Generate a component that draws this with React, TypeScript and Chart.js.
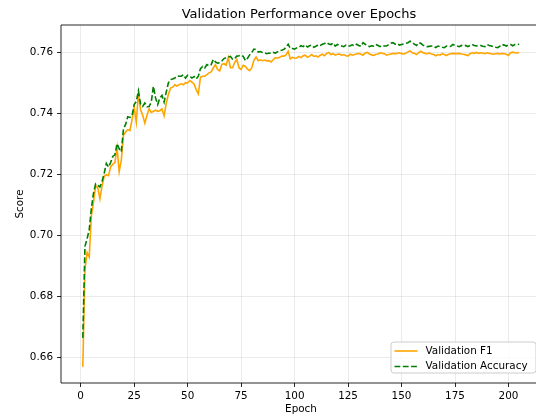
import React, { useEffect, useRef } from "react";
import { Chart, registerables } from "chart.js";

Chart.register(...registerables);

const epochs = Array.from({ length: 205 }, (_, i) => i + 1);

const f1 = [
  0.6570, 0.6890, 0.6945, 0.6930, 0.7066, 0.7110, 0.7164, 0.7157, 0.7121, 0.7164,
  0.7195, 0.7200, 0.7197, 0.7226, 0.7234, 0.7240, 0.7289, 0.7210, 0.7248, 0.7330,
  0.7340, 0.7348, 0.7345, 0.7380, 0.7420, 0.7372, 0.7468, 0.7413, 0.7395, 0.7369,
  0.7395, 0.7416, 0.7404, 0.7408, 0.7412, 0.7408, 0.7410, 0.7416, 0.7393, 0.7435,
  0.7463, 0.7484, 0.7487, 0.7495, 0.7491, 0.7495, 0.7498, 0.7495, 0.7502, 0.7501,
  0.7509, 0.7504, 0.7498, 0.7479, 0.7465, 0.7520, 0.7523, 0.7523, 0.7528, 0.7534,
  0.7537, 0.7550, 0.7561, 0.7545, 0.7540, 0.7562, 0.7564, 0.7559, 0.7584, 0.7551,
  0.7551, 0.7568, 0.7578, 0.7551, 0.7545, 0.7559, 0.7555, 0.7546, 0.7541, 0.7551,
  0.7575, 0.7586, 0.7574, 0.7577, 0.7574, 0.7576, 0.7573, 0.7574, 0.7570, 0.7577,
  0.7584, 0.7582, 0.7585, 0.7589, 0.7589, 0.7593, 0.7605, 0.7580, 0.7585, 0.7582,
  0.7583, 0.7588, 0.7584, 0.7590, 0.7592, 0.7585, 0.7589, 0.7594, 0.7588, 0.7590,
  0.7586, 0.7592, 0.7595, 0.7590, 0.7598, 0.7601, 0.7594, 0.7597, 0.7592, 0.7595,
  0.7596, 0.7592, 0.7594, 0.7590, 0.7589, 0.7595, 0.7592, 0.7594, 0.7596, 0.7598,
  0.7595, 0.7592, 0.7599, 0.7601, 0.7596, 0.7593, 0.7591, 0.7595, 0.7596, 0.7600,
  0.7598, 0.7597, 0.7592, 0.7594, 0.7596, 0.7598, 0.7597, 0.7598, 0.7600, 0.7597,
  0.7596, 0.7598, 0.7603, 0.7606, 0.7600, 0.7598, 0.7594, 0.7600, 0.7605, 0.7600,
  0.7598, 0.7597, 0.7599, 0.7596, 0.7594, 0.7590, 0.7594, 0.7592, 0.7597, 0.7594,
  0.7591, 0.7595, 0.7597, 0.7598, 0.7597, 0.7597, 0.7598, 0.7596, 0.7595, 0.7593,
  0.7591, 0.7597, 0.7600, 0.7598, 0.7601, 0.7598, 0.7600, 0.7599, 0.7597, 0.7600,
  0.7598, 0.7597, 0.7595, 0.7597, 0.7598, 0.7596, 0.7598, 0.7597, 0.7595, 0.7591,
  0.7600, 0.7602, 0.7600, 0.7599, 0.7601,
];

const acc = [
  0.6665, 0.6965, 0.6990, 0.7020, 0.7090, 0.7140, 0.7170, 0.7165, 0.7160, 0.7178,
  0.7205, 0.7237, 0.7225, 0.7240, 0.7260, 0.7265, 0.7302, 0.7285, 0.7275, 0.7350,
  0.7365, 0.7390, 0.7388, 0.7393, 0.7430, 0.7440, 0.7475, 0.7432, 0.7424, 0.7435,
  0.7423, 0.7424, 0.7438, 0.7490, 0.7452, 0.7430, 0.7452, 0.7460, 0.7438, 0.7471,
  0.7501, 0.7512, 0.7514, 0.7517, 0.7524, 0.7523, 0.7523, 0.7528, 0.7517, 0.7526,
  0.7523, 0.7517, 0.7522, 0.7514, 0.7523, 0.7548, 0.7555, 0.7550, 0.7561, 0.7557,
  0.7561, 0.7578, 0.7570, 0.7566, 0.7567, 0.7573, 0.7581, 0.7584, 0.7586, 0.7588,
  0.7579, 0.7581, 0.7589, 0.7590, 0.7592, 0.7588, 0.7574, 0.7582, 0.7593, 0.7601,
  0.7612, 0.7610, 0.7602, 0.7604, 0.7601, 0.7600, 0.7597, 0.7599, 0.7598, 0.7601,
  0.7599, 0.7603, 0.7607, 0.7608, 0.7611, 0.7618, 0.7628, 0.7614, 0.7614, 0.7612,
  0.7616, 0.7618, 0.7623, 0.7620, 0.7626, 0.7619, 0.7623, 0.7625, 0.7618, 0.7621,
  0.7626, 0.7624, 0.7628, 0.7630, 0.7634, 0.7629, 0.7627, 0.7632, 0.7622, 0.7627,
  0.7624, 0.7622, 0.7620, 0.7625, 0.7621, 0.7623, 0.7626, 0.7622, 0.7628, 0.7624,
  0.7621, 0.7633, 0.7628, 0.7624, 0.7620, 0.7623, 0.7622, 0.7627, 0.7624, 0.7620,
  0.7624, 0.7622, 0.7622, 0.7627, 0.7631, 0.7633, 0.7628, 0.7630, 0.7625, 0.7627,
  0.7629, 0.7631, 0.7633, 0.7638, 0.7634, 0.7628, 0.7624, 0.7633, 0.7631, 0.7625,
  0.7622, 0.7620, 0.7621, 0.7622, 0.7622, 0.7617, 0.7622, 0.7620, 0.7618, 0.7617,
  0.7622, 0.7620, 0.7621, 0.7627, 0.7624, 0.7622, 0.7620, 0.7624, 0.7622, 0.7624,
  0.7620, 0.7624, 0.7627, 0.7624, 0.7622, 0.7624, 0.7624, 0.7621, 0.7620, 0.7627,
  0.7624, 0.7622, 0.7620, 0.7618, 0.7617, 0.7622, 0.7627, 0.7625, 0.7622, 0.7626,
  0.7627, 0.7623, 0.7627, 0.7628, 0.7627,
];

const xTicks = [0, 25, 50, 75, 100, 125, 150, 175, 200];
const yTicks = [0.66, 0.68, 0.7, 0.72, 0.74, 0.76];
const titleText = "Validation Performance over Epochs";
const xLabel = "Epoch";
const yLabel = "Score";
const seriesNames = ["Validation F1", "Validation Accuracy"];
const colors = ["#ffa500", "#008000"];

const FONT = '"DejaVu Sans", sans-serif';

const decorPlugin = {
  id: "decor",
  afterDraw(chart: any) {
    const { ctx, chartArea: a } = chart;
    ctx.save();
    // spines
    ctx.strokeStyle = "#000";
    ctx.lineWidth = 0.85;
    ctx.beginPath();
    ctx.rect(a.left, a.top, a.right - a.left, a.bottom - a.top);
    ctx.stroke();

    const cx = (a.left + a.right) / 2;
    ctx.fillStyle = "#000";
    ctx.textAlign = "center";
    ctx.textBaseline = "middle";
    ctx.font = `13px ${FONT}`;
    ctx.fillText(titleText, cx - 2, 15);

    ctx.font = `10.4px ${FONT}`;
    ctx.fillText(xLabel, cx, 409.5);

    ctx.save();
    ctx.translate(20, (a.top + a.bottom) / 2);
    ctx.rotate(-Math.PI / 2);
    ctx.fillText(yLabel, 0, 0);
    ctx.restore();

    // legend
    const lx = 391, ly = 342, lw = 145, lh = 31, r = 3;
    ctx.beginPath();
    ctx.moveTo(lx + r, ly);
    ctx.lineTo(lx + lw - r, ly);
    ctx.arcTo(lx + lw, ly, lx + lw, ly + r, r);
    ctx.lineTo(lx + lw, ly + lh - r);
    ctx.arcTo(lx + lw, ly + lh, lx + lw - r, ly + lh, r);
    ctx.lineTo(lx + r, ly + lh);
    ctx.arcTo(lx, ly + lh, lx, ly + lh - r, r);
    ctx.lineTo(lx, ly + r);
    ctx.arcTo(lx, ly, lx + r, ly, r);
    ctx.closePath();
    ctx.fillStyle = "rgba(255,255,255,0.8)";
    ctx.fill();
    ctx.strokeStyle = "#cccccc";
    ctx.lineWidth = 1;
    ctx.stroke();

    const rows = [351, 366.5];
    seriesNames.forEach((name, i) => {
      ctx.beginPath();
      ctx.strokeStyle = colors[i];
      ctx.lineWidth = 1.6;
      ctx.setLineDash(i === 1 ? [5.8, 2.5] : []);
      ctx.moveTo(394.5, rows[i]);
      ctx.lineTo(417.5, rows[i]);
      ctx.stroke();
      ctx.setLineDash([]);
      ctx.fillStyle = "#000";
      ctx.textAlign = "left";
      ctx.font = `10.4px ${FONT}`;
      ctx.fillText(name, 425.5, rows[i]);
    });
    ctx.restore();
  },
};

export default function App() {
  const ref = useRef<HTMLCanvasElement | null>(null);

  useEffect(() => {
    document.body.style.margin = "0";
    document.body.style.overflow = "hidden";
    const canvas = ref.current;
    if (!canvas) return;
    const chart = new Chart(canvas, {
      type: "line",
      data: {
        datasets: [
          {
            label: seriesNames[0],
            data: epochs.map((e, i) => ({ x: e, y: f1[i] })),
            borderColor: colors[0],
            backgroundColor: colors[0],
            borderWidth: 1.6,
            pointRadius: 0,
            tension: 0,
            order: 1,
          },
          {
            label: seriesNames[1],
            data: epochs.map((e, i) => ({ x: e, y: acc[i] })),
            borderColor: colors[1],
            backgroundColor: colors[1],
            borderWidth: 1.6,
            borderDash: [5.8, 2.5],
            pointRadius: 0,
            tension: 0,
            order: 0,
          },
        ],
      },
      plugins: [decorPlugin],
      options: {
        animation: false,
        responsive: false,
        devicePixelRatio: 1,
        layout: { padding: { top: 25, right: 1, left: 0, bottom: 0 } },
        plugins: {
          legend: { display: false },
          title: { display: false },
          tooltip: { enabled: false },
        },
        scales: {
          x: {
            type: "linear",
            min: -9.2,
            max: 215.2,
            afterBuildTicks: (s: any) => {
              s.ticks = xTicks.map((v) => ({ value: v }));
            },
            afterFit: (s: any) => {
              s.height = 34;
            },
            ticks: {
              autoSkip: false,
              maxRotation: 0,
              padding: 3,
              color: "#000",
              font: { family: FONT, size: 10.4 },
              callback: (v: any) => String(v),
            },
            grid: {
              color: "rgba(176,176,176,0.3)",
              lineWidth: 0.85,
              tickColor: "#000",
              tickLength: 4,
              tickWidth: 0.85,
            },
            border: { display: false },
          },
          y: {
            type: "linear",
            min: 0.6517,
            max: 0.7691,
            afterBuildTicks: (s: any) => {
              s.ticks = yTicks.map((v) => ({ value: v }));
            },
            afterFit: (s: any) => {
              s.width = 61;
            },
            ticks: {
              autoSkip: false,
              padding: 4,
              color: "#000",
              font: { family: FONT, size: 10.4 },
              callback: (v: any) => Number(v).toFixed(2),
            },
            grid: {
              color: "rgba(176,176,176,0.3)",
              lineWidth: 0.85,
              tickColor: "#000",
              tickLength: 4,
              tickWidth: 0.85,
            },
            border: { display: false },
          },
        },
      },
    });
    return () => chart.destroy();
  }, []);

  return (
    <div style={{ width: 536, height: 417, overflow: "hidden", background: "#fff" }}>
      <canvas ref={ref} width={542} height={417} style={{ display: "block", width: 542, height: 417 }} />
    </div>
  );
}
